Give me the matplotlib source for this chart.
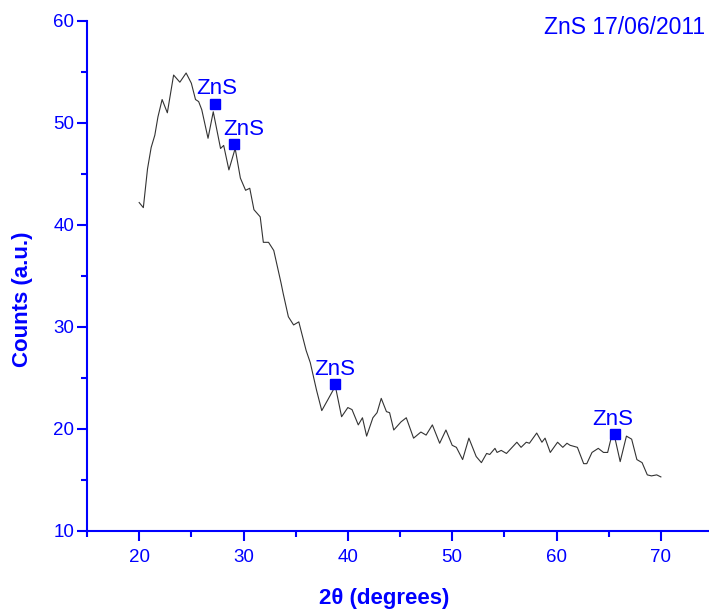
import matplotlib
matplotlib.use('Agg')
import matplotlib.pyplot as plt
import numpy as np

plt.rcParams['font.family'] = ['Liberation Sans', 'DejaVu Sans']

# XRD pattern
two_theta = [20.0, 20.4, 20.8, 21.15, 21.5, 21.8, 22.2, 22.7, 23.3, 23.9, 24.5, 25.0,
             25.4, 25.7, 26.0, 26.6, 27.1, 27.8, 28.1, 28.6, 29.2, 29.7, 30.2, 30.6,
             31.0, 31.6, 31.9, 32.4, 32.9, 33.6, 33.8, 34.3, 34.8, 35.3, 36.0, 36.4,
             37.0, 37.5, 38.1, 38.8, 39.4, 40.0, 40.4, 41.0, 41.4, 41.8, 42.4, 42.8,
             43.2, 43.7, 44.0, 44.4, 45.1, 45.6, 46.3, 47.0, 47.5, 48.1, 48.8, 49.4,
             50.0, 50.4, 51.0, 51.6, 52.3, 52.8, 53.3, 53.6, 54.1, 54.3, 54.7, 55.2,
             56.2, 56.6, 57.1, 57.4, 58.1, 58.6, 58.9, 59.4, 60.1, 60.6, 61.0, 61.3,
             62.0, 62.6, 62.9, 63.4, 63.7, 64.0, 64.5, 64.9, 65.3, 65.6, 66.1, 66.7,
             67.2, 67.7, 68.2, 68.7, 69.1, 69.6, 70.0]
counts = [42.2, 41.7, 45.5, 47.6, 48.8, 50.6, 52.3, 51.0, 54.7, 54.0, 54.9, 53.9,
          52.3, 52.1, 51.3, 48.5, 51.1, 47.5, 47.8, 45.4, 47.5, 44.6, 43.4, 43.6,
          41.5, 40.8, 38.3, 38.3, 37.5, 34.3, 33.3, 31.0, 30.2, 30.5, 27.7, 26.5,
          23.8, 21.8, 22.9, 24.2, 21.2, 22.1, 21.9, 20.4, 21.1, 19.3, 21.1, 21.6,
          23.0, 21.7, 21.6, 19.9, 20.7, 21.1, 19.1, 19.7, 19.4, 20.4, 18.6, 19.9,
          18.4, 18.2, 17.0, 19.1, 17.3, 16.7, 17.6, 17.5, 18.1, 17.7, 17.9, 17.6,
          18.7, 18.2, 18.7, 18.6, 19.6, 18.7, 19.1, 17.7, 18.7, 18.2, 18.6, 18.4,
          18.2, 16.6, 16.6, 17.7, 17.9, 18.1, 17.7, 17.7, 19.4, 19.1, 16.8, 19.3,
          19.0, 17.0, 16.7, 15.5, 15.4, 15.5, 15.3]

# ZnS peak markers
peak_x = [27.3, 29.1, 38.75, 65.6]
peak_y = [51.9, 47.9, 24.4, 19.5]
peak_label_dx = [0.1, 0.9, 0.0, -0.2]

blue = '#0000ff'

fig = plt.figure(figsize=(7.09, 6.12), dpi=100)
ax = fig.add_axes([0.1227, 0.1324, 0.883, 0.8333])

ax.plot(two_theta, counts, '-', color='#333333', linewidth=0.8)
ax.plot(peak_x, peak_y, 's', color=blue, markersize=6.5, linestyle='none')
for px, py, dx in zip(peak_x, peak_y, peak_label_dx):
    ax.annotate('ZnS', (px + dx, py), textcoords='offset points', xytext=(0, 3),
                ha='center', va='bottom', color=blue, fontsize=16)

ax.set_xlim(15, 75)
ax.set_ylim(10, 60)
ax.set_xticks([20, 30, 40, 50, 60, 70])
ax.set_xticks([15, 25, 35, 45, 55, 65, 75], minor=True)
ax.set_yticks([10, 20, 30, 40, 50, 60])
ax.set_yticks([15, 25, 35, 45, 55], minor=True)

for side in ['top', 'right']:
    ax.spines[side].set_visible(False)
for side in ['left', 'bottom']:
    ax.spines[side].set_color(blue)
    ax.spines[side].set_linewidth(1.5)

ax.tick_params(which='major', direction='out', length=7, width=1.5, color=blue,
               labelcolor=blue, labelsize=13.5, pad=2)
ax.tick_params(which='minor', direction='out', length=4.5, width=1.5, color=blue)
ax.tick_params(axis='x', which='major', pad=6)

ax.set_xlabel('2θ (degrees)', color=blue, fontsize=16, fontweight='bold')
ax.set_ylabel('Counts (a.u.)', color=blue, fontsize=16, fontweight='bold')
ax.xaxis.set_label_coords(0.474, -0.112)
ax.yaxis.set_label_coords(-0.086, 0.455)

fig.text(0.994, 0.955, 'ZnS 17/06/2011', ha='right', va='center', color=blue, fontsize=16.5)

fig.savefig('out.png', dpi=100)
